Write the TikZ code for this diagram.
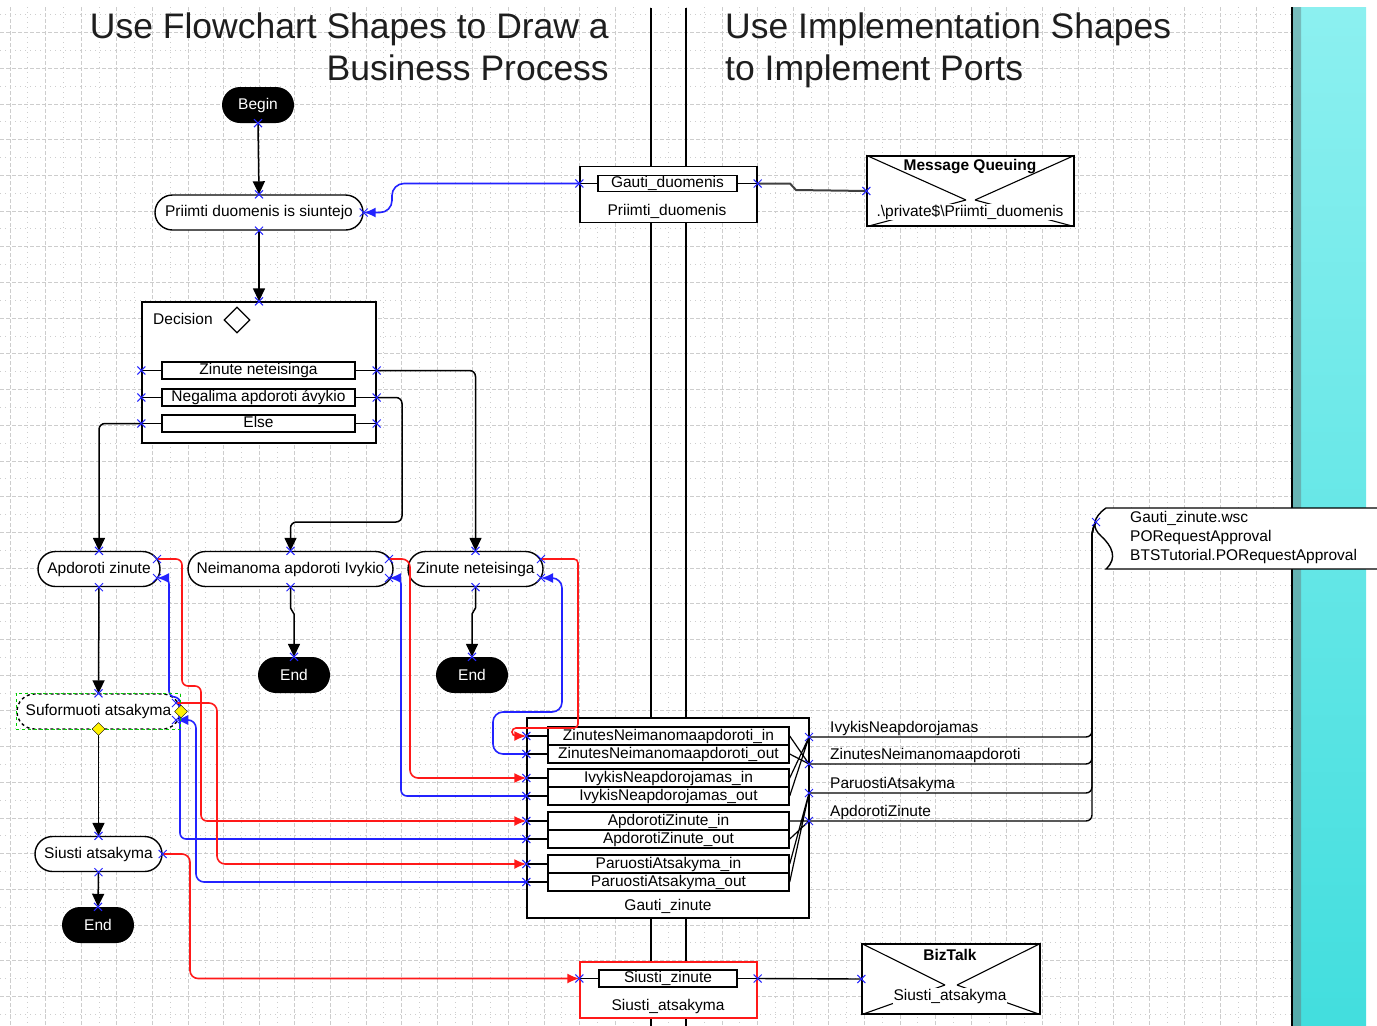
\documentclass[tikz,border=0pt]{standalone}
\usepackage{fontspec}
\setmainfont{Liberation Sans}
\usetikzlibrary{shapes.geometric, shapes.misc, arrows.meta}

\definecolor{gridgray}{RGB}{205,205,205}
\definecolor{stripdark}{RGB}{85,170,170}
\definecolor{striptop}{RGB}{140,240,240}
\definecolor{stripbot}{RGB}{66,222,222}
\definecolor{linkred}{RGB}{255,25,25}
\definecolor{linkblue}{RGB}{35,35,255}
\definecolor{ttlgray}{RGB}{30,30,30}

\newcommand{\lblfont}{\fontsize{15.5}{19}\selectfont}
\newcommand{\ttlfont}{\fontsize{35.5}{42}\selectfont}
\newcommand{\xpin}[1]{\draw[xm] (#1) +(-4,-4) -- +(4,4) +(-4,4) -- +(4,-4);}

\tikzset{
  gridline/.style={draw=gridgray, line width=0.8pt, dash pattern=on 4pt off 2pt},
  gridminor/.style={draw=gridgray, line width=0.8pt, dash pattern=on 1pt off 4pt},
  lane/.style={line width=2pt},
  proc/.style={rounded rectangle, draw, line width=1.4pt, fill=white, minimum height=35pt, inner sep=0pt, font=\lblfont},
  term/.style={rounded rectangle, fill=black, text=white, minimum width=72pt, minimum height=36pt, inner sep=0pt, font=\lblfont},
  portbox/.style={rectangle, draw, line width=1.4pt, fill=white, inner sep=0pt},
  portrow/.style={rectangle, draw, line width=1.4pt, fill=white, inner sep=0pt, minimum height=18pt, text height=11pt, text depth=3pt, font=\lblfont},
  txt/.style={inner sep=0pt, font=\lblfont},
  flow/.style={line width=1.5pt, -{Triangle[length=13pt,width=12pt]}},
  sendline/.style={draw=linkred, line width=1.6pt, rounded corners=8pt, -{Latex[length=12pt,width=10pt]}},
  recvline/.style={draw=linkblue, line width=1.6pt, rounded corners=8pt, -{Latex[length=12pt,width=10pt]}},
  xm/.style={draw=linkblue, line width=1pt},
  handle/.style={diamond, draw, fill=yellow, minimum size=13pt, inner sep=0pt},
}

\begin{document}
\begin{tikzpicture}[x=1pt,y=-1pt]
\useasboundingbox (0,0) rectangle (1377,1026);

% page grid
\foreach \i in {0,...,35}
  \draw[gridline] ({10+35.6*\i},7) -- ({10+35.6*\i},1026);
\foreach \i in {0,...,27}
  \draw[gridline] (0,{32.5+35.7*\i}) -- (1291,{32.5+35.7*\i});
\foreach \i in {0,...,35}
  \draw[gridminor] ({27.8+35.6*\i},7) -- ({27.8+35.6*\i},1026);
\foreach \i in {-1,...,27}
  \draw[gridminor] (0,{50.35+35.7*\i}) -- (1291,{50.35+35.7*\i});

% side strip
\shade[top color=striptop, bottom color=stripbot] (1301,7) rectangle (1366,1026);
\shade[top color=stripdark!80, bottom color=stripdark] (1293,7) rectangle (1301,1026);
\draw[line width=2pt] (1292,7) -- (1292,1026);

% swimlanes
\draw[lane] (651,8) -- (651,1026);
\draw[lane] (686,8) -- (686,1026);

% titles
\node[anchor=base east, inner sep=0pt, font=\ttlfont, text=ttlgray] (ttl1) at (609,38) {Use Flowchart Shapes to Draw a};
\node[anchor=base east, inner sep=0pt, font=\ttlfont, text=ttlgray] (ttl2) at (609,80) {Business Process};
\node[anchor=base west, inner sep=0pt, font=\ttlfont, text=ttlgray] (ttl3) at (725,38) {Use Implementation Shapes};
\node[anchor=base west, inner sep=0pt, font=\ttlfont, text=ttlgray] (ttl4) at (725,80) {to Implement Ports};

% flowchart
\node[term] (begin) at (258,105) {Begin};
\node[proc, minimum width=208pt] (recv) at (259,212.5) {Priimti duomenis is siuntejo};

\node[portbox, minimum width=234pt, minimum height=141pt] (dec) at (259,372.5) {};
\node[txt, anchor=west] (decl) at (153,319) {Decision};
\node[diamond, draw, line width=1.2pt, minimum size=26pt, inner sep=0pt] (decd) at (237,320) {};
\node[portrow, minimum width=193pt, minimum height=17pt] (r1) at (258.5,370.5) {Zinute neteisinga};
\node[portrow, minimum width=193pt, minimum height=17pt] (r2) at (258.5,397.5) {Negalima apdoroti ávykio};
\node[portrow, minimum width=193pt, minimum height=17pt] (r3) at (258.5,423.5) {Else};
\foreach \r in {r1,r2,r3} {
  \draw[line width=1.4pt] (\r -| dec.west) -- (\r.west);
  \draw[line width=1.4pt] (\r.east) -- (\r -| dec.east);
}

\node[proc, minimum width=122pt] (apd) at (99,569) {Apdoroti zinute};
\node[proc, minimum width=205pt] (imp) at (290.5,569) {Neimanoma apdoroti Ivykio};
\node[proc, minimum width=135pt] (bad) at (475.5,569) {Zinute neteisinga};
\node[term] (end1) at (294,675) {End};
\node[term] (end2) at (472,675) {End};
\node[proc, dashed, minimum width=163pt] (form) at (98.5,711.5) {Suformuoti atsakyma};
\node[proc, minimum width=127pt] (send) at (98.5,854) {Siusti atsakyma};
\node[term] (end3) at (98,925) {End};

\coordinate (apd-o) at (157,559);
\coordinate (apd-i) at (157,578);
\coordinate (imp-o) at (389,559);
\coordinate (imp-i) at (389,578);
\coordinate (bad-o) at (541,559);
\coordinate (bad-i) at (541,578);
\coordinate (form-o) at (176,703);
\coordinate (form-i) at (176,720);

% ports
\node[portbox, minimum width=177pt, minimum height=56pt] (pd) at (668.5,194.5) {};
\node[portrow, minimum width=139pt, minimum height=16pt] (gd) at (667.5,183.5) {Gauti\_duomenis};
\node[txt] (pdl) at (667,211) {Priimti\_duomenis};
\draw[line width=1.4pt] (gd -| pd.west) -- (gd.west) (gd.east) -- (gd -| pd.east);

\node[portbox, minimum width=207pt, minimum height=70pt] (mq) at (970.5,191) {};
\draw[line width=1.1pt] (mq.north west) -- (966,200) (mq.north east) -- (975,200)
  (mq.south west) -- (966,200) (mq.south east) -- (975,200);
\node[txt, font=\lblfont\bfseries] (mqt) at (970,167) {Message Queuing};
\node[txt, fill=white, inner sep=1pt] (mql) at (970,212) {.\textbackslash private\$\textbackslash Priimti\_duomenis};

\node[portbox, minimum width=282pt, minimum height=200pt] (gz) at (668,818) {};
\node[portrow, minimum width=241pt] (zi) at (668.5,736) {ZinutesNeimanomaapdoroti\_in};
\node[portrow, minimum width=241pt] (zo) at (668.5,754) {ZinutesNeimanomaapdoroti\_out};
\node[portrow, minimum width=241pt] (ii) at (668.5,778) {IvykisNeapdorojamas\_in};
\node[portrow, minimum width=241pt] (io) at (668.5,796) {IvykisNeapdorojamas\_out};
\node[portrow, minimum width=241pt] (ai) at (668.5,821) {ApdorotiZinute\_in};
\node[portrow, minimum width=241pt] (ao) at (668.5,839) {ApdorotiZinute\_out};
\node[portrow, minimum width=241pt] (pi) at (668.5,864) {ParuostiAtsakyma\_in};
\node[portrow, minimum width=241pt] (po) at (668.5,882) {ParuostiAtsakyma\_out};
\node[txt] (gzl) at (668,906) {Gauti\_zinute};
\foreach \r in {zi,zo,ii,io,ai,ao,pi,po}
  \draw[line width=1.4pt] (\r -| gz.west) -- (\r.west);
\coordinate (gz-1) at (809,737);
\coordinate (gz-2) at (809,764);
\coordinate (gz-3) at (809,793);
\coordinate (gz-4) at (809,821);
\draw[line width=1.2pt] (ii.east) -- (gz-1) (io.east) -- (gz-1)
  (zi.east) -- (gz-2) (zo.east) -- (gz-2)
  (pi.east) -- (gz-3) (po.east) -- (gz-3)
  (ai.east) -- (gz-4) (ao.east) -- (gz-4);

\node[portbox, draw=linkred, minimum width=177pt, minimum height=56pt] (sz) at (668.5,990) {};
\node[portrow, minimum width=138pt, minimum height=17pt] (sr) at (668,978.5) {Siusti\_zinute};
\node[txt] (szl) at (668,1006) {Siusti\_atsakyma};
\draw[line width=1.4pt] (sr -| sz.west) -- (sr.west) (sr.east) -- (sr -| sz.east);

\node[portbox, minimum width=178pt, minimum height=70pt] (bt) at (951,979) {};
\draw[line width=1.1pt] (bt.north west) -- (945,985) (bt.north east) -- (957,985)
  (bt.south west) -- (945,985) (bt.south east) -- (957,985);
\node[txt, font=\lblfont\bfseries] (btt) at (950,955) {BizTalk};
\node[txt, fill=white, inner sep=1pt] (btl) at (950,996) {Siusti\_atsakyma};

% web service port
\fill[white] (1106,508) .. controls (1092,518) and (1092,528) .. (1101,536)
  .. controls (1112,546) and (1118,558) .. (1106,569) -- (1377,569) -- (1377,508) -- cycle;
\draw[line width=1.4pt] (1377,508) -- (1106,508) .. controls (1092,518) and (1092,528) .. (1101,536)
  .. controls (1112,546) and (1118,558) .. (1106,569) -- (1377,569);
\node[txt, anchor=west, align=left] (wsc) at (1130,537) {Gauti\_zinute.wsc\\PORequestApproval\\BTSTutorial.PORequestApproval};
\coordinate (wsc-p) at (1096,522);
\coordinate (wsc-b) at (1092,530);

% flow connectors
\draw[flow] (begin.south) -- (recv.north);
\draw[flow] (recv.south) -- (dec.north);
\draw[flow, rounded corners=6pt] (r3 -| dec.west) -| (apd.north);
\draw[flow, rounded corners=6pt] (r1 -| dec.east) -| (bad.north);
\draw[flow, rounded corners=6pt] (r2 -| dec.east) -| (402,522) -| (imp.north);
\draw[flow] (imp.south) -- (290.5,608) -- (294,614) -- (end1.north);
\draw[flow] (bad.south) -- (475.5,608) -- (472,614) -- (end2.north);
\draw[flow] (apd.south) -- (form.north);
\draw[flow] (form.south) -- (send.north);
\draw[flow] (send.south) -- (end3.north);

% message links
\draw[recvline, rounded corners=12pt] (gd -| pd.west) -- (392,183.5) -- (392,212.5) -- (recv.east);
\draw[line width=2pt, black!75] (gd -| pd.east) -- (790,183.5) -- (796,190) -- (mq.west);
\draw[sendline, rounded corners=4pt] (bad-o) -- (578,559) -- (578,728) -- (512,728) -- (512,736) -- (zi -| gz.west);
\draw[recvline, rounded corners=10pt] (zo -| gz.west) -- (493,754) -- (493,712) -- (562,712) -- (562,578) -- (bad-i);
\draw[sendline] (imp-o) -- (410,559) -- (410,778) -- (ii -| gz.west);
\draw[recvline, rounded corners=6pt] (io -| gz.west) -- (401,796) -- (401,578) -- (imp-i);
\draw[sendline, rounded corners=6pt] (apd-o) -- (182,559) -- (182,686) -- (201,686) -- (201,821) -- (ai -| gz.west);
\draw[recvline, rounded corners=6pt] (ao -| gz.west) -- (180,839) -- (180,697) -- (169,697) -- (169,578) -- (apd-i);
\draw[sendline] (form-o) -- (217,703) -- (217,864) -- (pi -| gz.west);
\draw[recvline] (po -| gz.west) -- (196,882) -- (196,720) -- (form-i);
\draw[sendline] (send.east) -| (190,978.5) -- (sr -| sz.west);
\draw[line width=1.4pt] (sr -| sz.east) -- (bt.west);

% implementation links
\foreach \g in {gz-1,gz-2,gz-3,gz-4}
  \draw[line width=1.4pt, rounded corners=6pt] (\g) -| (wsc-b) -- (wsc-p);
\node[txt, anchor=south west] (lb1) at (830,736) {IvykisNeapdorojamas};
\node[txt, anchor=south west] (lb2) at (830,763) {ZinutesNeimanomaapdoroti};
\node[txt, anchor=south west] (lb3) at (830,792) {ParuostiAtsakyma};
\node[txt, anchor=south west] (lb4) at (830,820) {ApdorotiZinute};

% selection marks
\draw[green!80!black, dashed, line width=1pt] (form.west |- form.north) rectangle (form.east |- form.south);
\node[handle] (hd1) at (181,711.5) {};
\node[handle] (hd2) at (98.5,729) {};

% connection points
\foreach \p in {begin.south, recv.north, recv.south, recv.east, dec.north,
  r1 -| dec.west, r1 -| dec.east, r2 -| dec.west, r2 -| dec.east, r3 -| dec.west, r3 -| dec.east,
  apd.north, apd.south, apd-o, apd-i, imp.north, imp.south, imp-o, imp-i,
  bad.north, bad.south, bad-o, bad-i, end1.north, end2.north, end3.north,
  form.north, form-o, form-i, send.north, send.south, send.east,
  gd -| pd.west, gd -| pd.east, mq.west,
  zi -| gz.west, zo -| gz.west, ii -| gz.west, io -| gz.west,
  ai -| gz.west, ao -| gz.west, pi -| gz.west, po -| gz.west,
  gz-1, gz-2, gz-3, gz-4, wsc-p, sr -| sz.west, sr -| sz.east, bt.west}
  {\xpin{\p}}
\end{tikzpicture}
\end{document}
